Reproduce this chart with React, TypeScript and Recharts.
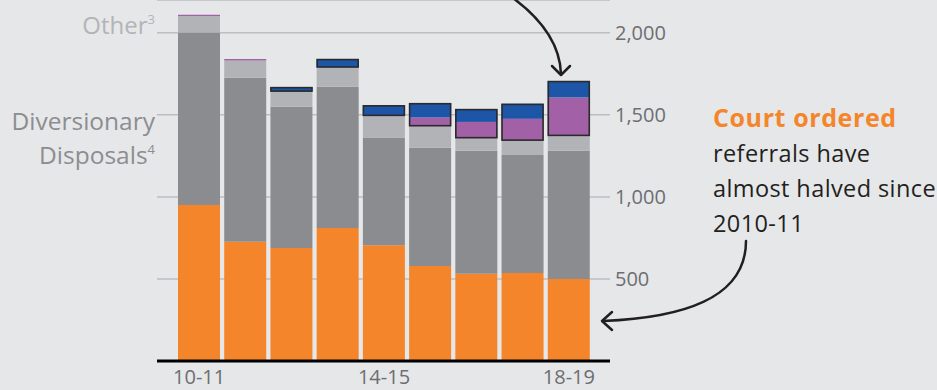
import React from "react"
import { BarChart, Bar, XAxis, YAxis, CartesianGrid } from "recharts"

// financial years
const years = ["10-11", "11-12", "12-13", "13-14", "14-15", "15-16", "16-17", "17-18", "18-19"]

// stacked values, bottom to top
const courtOrdered = [951, 726, 689, 811, 705, 579, 531, 537, 500]
const diversionary = [1051, 1000, 860, 860, 657, 720, 751, 719, 782]
const other = [100, 106, 93, 118, 132, 132, 76, 87, 90]
const series4 = [8, 8, 0, 0, 3, 53, 99, 133, 234]
const series5 = [0, 0, 27, 51, 61, 87, 78, 91, 100]

const yTicks = [500, 1000, 1500, 2000]

const data = years.map((year, i) => ({
  year,
  courtOrdered: courtOrdered[i],
  diversionary: diversionary[i],
  other: other[i],
  series4: series4[i],
  series5: series5[i],
}))

const FONT = "'Open Sans', Lato, sans-serif"
const TICK_COLOR = "#6D6E71"

// top segment draws an outline round itself and the purple segment under it
const OutlinedTop = (props: any) => {
  const { x, y, width, height, payload, fill } = props
  if (!payload || !payload.series5 || !height) return <g />
  const unit = height / payload.series5
  const below = (payload.series4 || 0) * unit
  return (
    <g>
      <rect x={x} y={y} width={width} height={height} fill={fill} />
      <rect
        x={x + 0.5}
        y={y + 0.5}
        width={width - 1}
        height={height + below - 1}
        fill="none"
        stroke="#2a2a2c"
        strokeWidth={1.6}
      />
    </g>
  )
}

export default function App() {
  return (
    <div
      style={{
        position: "absolute",
        left: 0,
        top: 0,
        width: 937,
        height: 390,
        background: "#E6E7E9",
        overflow: "hidden",
        fontFamily: FONT,
      }}
    >
      <BarChart
        width={937}
        height={390}
        data={data}
        margin={{ top: 0, right: 0, bottom: 0, left: 157 }}
        barSize={42}
      >
        <CartesianGrid vertical={false} stroke="#BDBEC0" strokeWidth={1.5} />
        <XAxis
          dataKey="year"
          interval={3}
          height={29}
          padding={{ left: 19, right: 18 }}
          axisLine={{ stroke: "#000", strokeWidth: 3 }}
          tickLine={false}
          tickSize={0}
          tickMargin={9}
          tick={{ fill: TICK_COLOR, fontSize: 20, fontFamily: FONT }}
        />
        <YAxis
          orientation="right"
          width={327}
          domain={[0, 2200]}
          ticks={yTicks}
          axisLine={false}
          tickLine={false}
          tickSize={0}
          tickMargin={5}
          tickFormatter={(v: number) => v.toLocaleString("en-GB")}
          tick={{ fill: TICK_COLOR, fontSize: 20, fontFamily: FONT, textAnchor: "start" }}
        />
        <Bar dataKey="courtOrdered" stackId="a" fill="#F4852A" isAnimationActive={false} />
        <Bar dataKey="diversionary" stackId="a" fill="#8B8C90" isAnimationActive={false} />
        <Bar dataKey="other" stackId="a" fill="#B2B3B6" isAnimationActive={false} />
        <Bar dataKey="series4" stackId="a" fill="#A261A6" isAnimationActive={false} />
        <Bar dataKey="series5" stackId="a" fill="#1D55A7" isAnimationActive={false} shape={OutlinedTop} />
      </BarChart>

      <svg
        width={937}
        height={390}
        style={{ position: "absolute", left: 0, top: 0, pointerEvents: "none" }}
        fontFamily={FONT}
      >
        <text x={155} y={34} textAnchor="end" fontSize={24} fill="#B3B4B7">
          Other<tspan fontSize={13} dy={-10}>3</tspan>
        </text>
        <text x={155} y={130} textAnchor="end" fontSize={24.5} fill="#8C8D91">
          Diversionary
        </text>
        <text x={155} y={164} textAnchor="end" fontSize={24.5} fill="#8C8D91">
          Disposals<tspan fontSize={13} dy={-10}>4</tspan>
        </text>

        <text x={713} y={127} fontSize={25} fontWeight={700} fill="#F4852A" letterSpacing={0.6}>
          Court ordered
        </text>
        <text x={713} y={162} fontSize={23.5} fill="#231F20" letterSpacing={0.4}>
          referrals have
        </text>
        <text x={713} y={197} fontSize={23.5} fill="#231F20" letterSpacing={0.4}>
          almost halved since
        </text>
        <text x={713} y={232} fontSize={23.5} fill="#231F20" letterSpacing={0.4}>
          2010-11
        </text>

        <g fill="none" stroke="#231F20" strokeWidth={2.5} strokeLinecap="round" strokeLinejoin="round">
          <path d="M 513 -2 C 540 18, 560 42, 561 74" />
          <path d="M 552 66 L 561 75 L 570 66" />
          <path d="M 746 241 C 746 300, 680 318, 603 321" />
          <path d="M 612 312 L 602 321 L 612 330" />
        </g>
      </svg>
    </div>
  )
}
